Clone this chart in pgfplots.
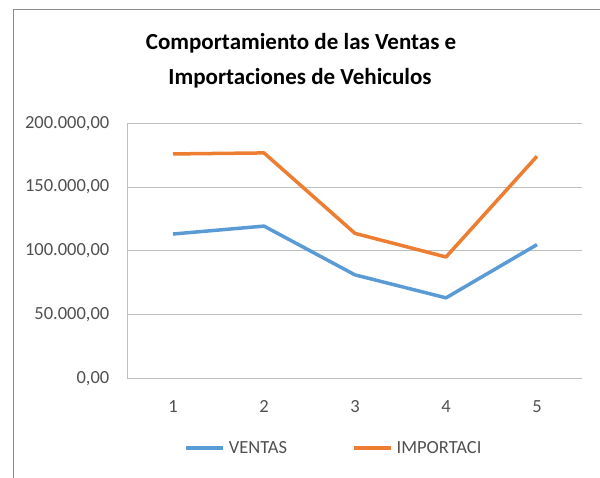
\documentclass[border=0pt]{standalone}
\usepackage{pgfplots}
\pgfplotsset{compat=1.18}
\usepackage{fontspec}
\setmainfont{Carlito}
\definecolor{cblue}{HTML}{5B9BD5}
\definecolor{corange}{HTML}{ED7D31}
\definecolor{tickc}{HTML}{505050}
\definecolor{gridc}{HTML}{BFBFBF}
\definecolor{borderc}{HTML}{8C8C8C}
\begin{document}
\begin{tikzpicture}
\path[use as bounding box] (0,0) rectangle (600pt,478pt);
\draw[borderc, line width=1pt] (13pt,0pt) -- (13pt,468pt) -- (600pt,468pt);
\node[font=\fontsize{23}{27}\selectfont\bfseries, anchor=base, inner sep=0pt] at (301pt,428.5pt) {Comportamiento de las Ventas e};
\node[font=\fontsize{23}{27}\selectfont\bfseries, anchor=base, inner sep=0pt] at (300pt,393pt) {Importaciones de Vehiculos};
\begin{axis}[
  at={(127.5pt,99.3pt)}, anchor=south west,
  scale only axis, width=455pt, height=255.4pt,
  xmin=0.5, xmax=5.5, ymin=0, ymax=200000,
  xtick={1,2,3,4,5},
  ytick={0,50000,100000,150000,200000},
  scaled y ticks=false,
  axis x line*=bottom, axis y line*=left,
  axis line style={gridc, line width=1pt, -},
  ymajorgrids, grid style={gridc, line width=1pt},
  major tick length=0pt,
  tick style={draw=none},
  ticklabel style={font=\fontsize{18.5}{22}\selectfont, text=tickc, inner sep=0pt},
  xticklabel style={anchor=base, yshift=-34pt},
  yticklabel style={anchor=east, xshift=-18pt},
  yticklabel={\pgfmathprintnumber[fixed,fixed zerofill,precision=2,use comma,1000 sep={.},assume math mode=true]{\tick}},
  xticklabel={\pgfmathprintnumber[assume math mode=true]{\tick}},
  legend columns=2,
  legend style={draw=none, fill=none, at={(0.4516,-0.2713)}, anchor=center,
    font=\fontsize{18.5}{22}\selectfont, text=tickc,
    nodes={inner sep=0pt},
    /tikz/every odd column/.append style={column sep=4pt},
    /tikz/every even column/.append style={column sep=65pt}},
  legend image code/.code={\draw[#1] (0pt,0pt) -- (37pt,0pt);},
]
\addplot[cblue, line width=3.5pt, line join=round] coordinates {(1,113300) (2,119500) (3,81300) (4,63300) (5,105000)};
\addplot[corange, line width=3.5pt, line join=round] coordinates {(1,176000) (2,176800) (3,113800) (4,95300) (5,174200)};
\legend{VENTAS, IMPORTACI}
\end{axis}
\end{tikzpicture}
\end{document}
